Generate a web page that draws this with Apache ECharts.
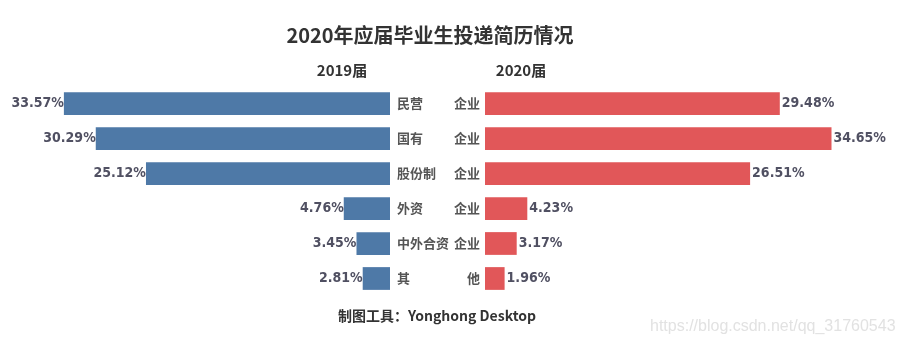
<!DOCTYPE html>
<html><head><meta charset="utf-8">
<script src="https://cdn.jsdelivr.net/npm/echarts@6/dist/echarts.min.js"></script>
<style>html,body{margin:0;padding:0;background:#fff}#c{width:902px;height:348px}</style>
</head><body><div id="c"></div>
<script>
var categories = ["民营企业","国有企业","股份制企业","外资企业","中外合资企业","其他"];
var leftTickLabels = ["民营","国有","股份制","外资","中外合资","其"];
var rightTickLabels = ["企业","企业","企业","企业","企业","他"];
var values2019 = [33.57, 30.29, 25.12, 4.76, 3.45, 2.81];
var values2020 = [29.48, 34.65, 26.51, 4.23, 3.17, 1.96];

var FONT = '"Noto Sans CJK SC","Noto Sans",sans-serif';
var NUMFONT = '"DejaVu Sans Condensed","DejaVu Sans",sans-serif';
var labelColor = '#505062';
var chart = echarts.init(document.getElementById('c'));
chart.setOption({
  animation:false,
  textStyle:{fontFamily:FONT},
  title:[
    {text:'2020年应届毕业生投递简历情况',left:425,top:20,textAlign:'center',textStyle:{fontSize:20,fontWeight:'bold',color:'#333',fontFamily:FONT}},
    {text:'2019届',left:337,top:58,textAlign:'center',textStyle:{fontSize:15,fontWeight:'bold',color:'#333',fontFamily:FONT}},
    {text:'2020届',left:516,top:58,textAlign:'center',textStyle:{fontSize:15,fontWeight:'bold',color:'#333',fontFamily:FONT}},
    {text:'制图工具：Yonghong Desktop',left:432,top:304,textAlign:'center',textStyle:{fontSize:14,fontWeight:'bold',color:'#333',fontFamily:FONT}}
  ],
  graphic:[{type:'text',left:650,top:319,style:{text:'https://blog.csdn.net/qq_31760543',fontSize:16,fill:'#e2e2e2',font:'16px "Liberation Sans", sans-serif'}}],
  grid:[
    {left:50,width:340,top:86,height:210},
    {left:485,width:350,top:86,height:210}
  ],
  xAxis:[
    {gridIndex:0,type:'value',min:0,max:35,inverse:true,show:false},
    {gridIndex:1,type:'value',min:0,max:35,show:false}
  ],
  yAxis:[
    {gridIndex:0,type:'category',data:categories,inverse:true,position:'right',
     axisLine:{show:false},axisTick:{show:false},
     axisLabel:{margin:7,align:'left',fontSize:13,fontWeight:'bold',color:'#555',
       formatter:function(v,i){return leftTickLabels[i];}}},
    {gridIndex:1,type:'category',data:categories,inverse:true,position:'left',
     axisLine:{show:false},axisTick:{show:false},
     axisLabel:{margin:5,align:'right',fontSize:13,fontWeight:'bold',color:'#555',
       formatter:function(v,i){return rightTickLabels[i];}}}
  ],
  series:[
    {type:'bar',xAxisIndex:0,yAxisIndex:0,data:values2019,barWidth:'65%',
     itemStyle:{color:'#4e79a7'},
     label:{show:true,position:'left',distance:0,fontSize:14,fontWeight:'bold',fontFamily:NUMFONT,color:labelColor,formatter:function(p){return p.value.toFixed(2)+'%';}}},
    {type:'bar',xAxisIndex:1,yAxisIndex:1,data:values2020,barWidth:'65%',
     itemStyle:{color:'#e15759'},
     label:{show:true,position:'right',distance:2,fontSize:14,fontWeight:'bold',fontFamily:NUMFONT,color:labelColor,formatter:function(p){return p.value.toFixed(2)+'%';}}}
  ]
});
</script></body></html>
